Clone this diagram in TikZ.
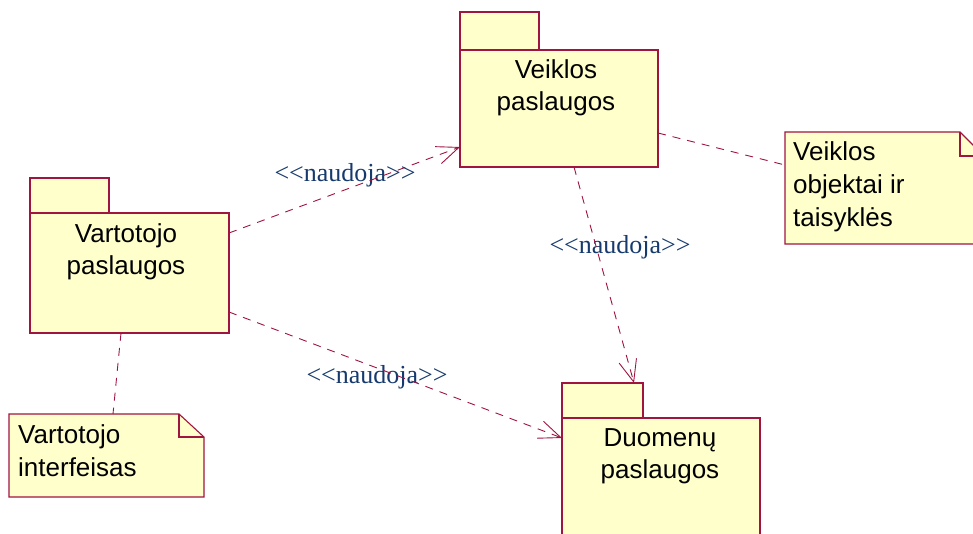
\documentclass[tikz,border=0pt]{standalone}
\usepackage{fontspec}
\setmainfont{Liberation Sans}
\newfontfamily\stereofont{Liberation Serif}[Ligatures=TeXOff]
\usetikzlibrary{arrows.meta}
\definecolor{pkgfill}{RGB}{255,255,204}
\definecolor{umlline}{RGB}{160,20,64}
\definecolor{stereo}{RGB}{22,58,110}
\tikzset{
  pkgshape/.style={draw=umlline, fill=pkgfill, line width=1.1bp, rectangle, inner sep=0pt, outer sep=0pt},
  noteanchor/.style={rectangle, inner sep=0pt, outer sep=0pt},
  notedraw/.style={draw=umlline, fill=pkgfill, line width=1.1bp, line join=miter},
  pkgtext/.style={font=\fontsize{26bp}{32bp}\selectfont, align=center, anchor=north, inner sep=0pt},
  notetext/.style={font=\fontsize{26bp}{33bp}\selectfont, align=left, anchor=north west, inner sep=0pt},
  usesdep/.style={draw=umlline, line width=0.9bp, dash pattern=on 8bp off 7bp,
    -{Straight Barb[length=22bp,width=18bp,line width=0.9bp]}},
  anchorline/.style={draw=umlline, line width=0.9bp, dash pattern=on 8bp off 7bp},
  stereolabel/.style={font=\stereofont\fontsize{26bp}{30bp}\selectfont, text=stereo, inner sep=0pt},
}
\begin{document}
\begin{tikzpicture}[x=1bp,y=-1bp]
\useasboundingbox (0,0) rectangle (973,534);
\clip (0,0) rectangle (973,534);

% packages: tab first, then body
\node[pkgshape, minimum width=79bp, minimum height=38bp] (veitab) at (499.5,31) {};
\node[pkgshape, minimum width=198bp, minimum height=117bp] (veib) at (559,108.5) {};
\node[pkgtext] (veitxt) at (556,59.4) {Veiklos\\paslaugos};

\node[pkgshape, minimum width=79bp, minimum height=35bp] (vartab) at (69.5,195.5) {};
\node[pkgshape, minimum width=199bp, minimum height=120bp] (vartb) at (129.5,273) {};
\node[pkgtext] (vartxt) at (126,223) {Vartotojo\\paslaugos};

\node[pkgshape, minimum width=81bp, minimum height=35bp] (duomtab) at (602.5,400.5) {};
\node[pkgshape, minimum width=198bp, minimum height=152bp] (duomb) at (661,494) {};
\node[pkgtext] (duomtxt) at (660,428) {Duomenų\\paslaugos};

% notes with folded corner
\node[noteanchor, minimum width=199bp, minimum height=112bp] (n1) at (884.5,188) {};
\draw[notedraw] (n1.north west) -- ([xshift=-24bp]n1.north east) -- ([yshift=-24bp]n1.north east)
  -- (n1.south east) -- (n1.south west) -- cycle;
\draw[notedraw, fill=none] ([xshift=-24bp]n1.north east) |- ([yshift=-24bp]n1.north east);
\node[notetext] (n1txt) at (793,141.4) {Veiklos\\objektai ir\\taisyklės};

\node[noteanchor, minimum width=195bp, minimum height=83bp] (n2) at (106.5,455.5) {};
\draw[notedraw] (n2.north west) -- ([xshift=-25bp]n2.north east) -- ([yshift=-23bp]n2.north east)
  -- (n2.south east) -- (n2.south west) -- cycle;
\draw[notedraw, fill=none] ([xshift=-25bp]n2.north east) |- ([yshift=-23bp]n2.north east);
\node[notetext] (n2txt) at (18,424.4) {Vartotojo\\interfeisas};

% stereotype labels
\node[stereolabel] (lab1) at (345,175) {<<naudoja>>};
\node[stereolabel] (lab2) at (377,377) {<<naudoja>>};
\node[stereolabel] (lab3) at (620,247) {<<naudoja>>};

% dependencies
\draw[usesdep] ([yshift=-20bp]vartb.north east) -- ([yshift=20bp]veib.south west);
\draw[usesdep] ([yshift=21bp]vartb.south east) -- ([yshift=-20bp]duomb.north west);
\draw[usesdep] ([xshift=15bp]veib.south) -- ([xshift=-9bp]duomtab.north east);

% note attachments
\draw[anchorline] ([yshift=34bp]veib.south east) -- ([yshift=-33bp]n1.north west);
\draw[anchorline] ([xshift=-8.5bp]vartb.south) -- ([xshift=104bp]n2.north west);
\end{tikzpicture}
\end{document}
